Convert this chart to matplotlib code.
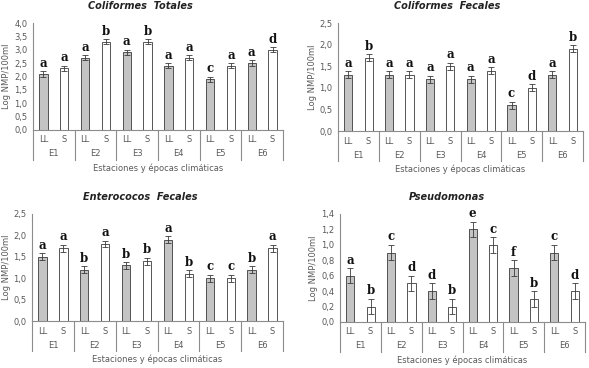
import numpy as np
import matplotlib
matplotlib.use("Agg")
from matplotlib import pyplot as plt
from matplotlib.transforms import blended_transform_factory

stations = ["E1", "E2", "E3", "E4", "E5", "E6"]
seasons = ["LL", "S"]

# coliformes totales
ct_ll = [2.1, 2.7, 2.9, 2.4, 1.9, 2.5]
ct_s = [2.3, 3.3, 3.3, 2.7, 2.4, 3.0]
ct_let_ll = ["a", "a", "a", "a", "c", "a"]
ct_let_s = ["a", "b", "b", "a", "a", "d"]

# coliformes fecales
cf_ll = [1.3, 1.3, 1.2, 1.2, 0.6, 1.3]
cf_s = [1.7, 1.3, 1.5, 1.4, 1.0, 1.9]
cf_let_ll = ["a", "a", "a", "a", "c", "a"]
cf_let_s = ["b", "a", "a", "a", "d", "b"]

# enterococos fecales
ef_ll = [1.5, 1.2, 1.3, 1.9, 1.0, 1.2]
ef_s = [1.7, 1.8, 1.4, 1.1, 1.0, 1.7]
ef_let_ll = ["a", "b", "b", "a", "c", "b"]
ef_let_s = ["a", "a", "b", "b", "c", "a"]

# pseudomonas
ps_ll = [0.6, 0.9, 0.4, 1.2, 0.7, 0.9]
ps_s = [0.2, 0.5, 0.2, 1.0, 0.3, 0.4]
ps_let_ll = ["a", "c", "d", "e", "f", "c"]
ps_let_s = ["b", "d", "b", "c", "b", "d"]

W, H = 589, 368
gray_txt = "#595959"
fig = plt.figure(figsize=(W / 100, H / 100), dpi=100)


def panel(box, title, title_x, ll, s, let_ll, let_s, ymax, ystep, err):
    l, t, r, b = box
    ax = fig.add_axes([l / W, 1 - b / H, (r - l) / W, (b - t) / H])
    axh = b - t
    x = np.arange(len(stations))
    xl = x + 0.25
    xs = x + 0.75
    ax.bar(xl, ll, width=0.2, color="#c4c4c4", edgecolor="#3a3a3a", linewidth=0.6, zorder=2)
    ax.bar(xs, s, width=0.2, color="white", edgecolor="#3a3a3a", linewidth=0.6, zorder=2)
    ax.errorbar(xl, ll, yerr=err, fmt="none", ecolor="#3a3a3a", elinewidth=0.6, capsize=2, capthick=0.6, zorder=3)
    ax.errorbar(xs, s, yerr=err, fmt="none", ecolor="#3a3a3a", elinewidth=0.6, capsize=2, capthick=0.6, zorder=3)
    for xx, v, lt in zip(list(xl) + list(xs), list(ll) + list(s), let_ll + let_s):
        ax.annotate(lt, (xx, v + err), xytext=(0, 1), textcoords="offset points",
                    ha="center", va="bottom", fontsize=8.5, fontweight="bold",
                    family="DejaVu Serif", color="#111111")
    ax.set_xlim(0, 6)
    ax.set_ylim(0, ymax)
    ticks = np.arange(0, ymax + 1e-9, ystep)
    ax.set_yticks(ticks)
    ax.set_yticklabels([("%.1f" % v).replace(".", ",") for v in ticks], fontsize=6, color=gray_txt)
    ax.tick_params(axis="y", length=0, pad=4)
    ax.set_xticks([])
    for sp in ["top", "right"]:
        ax.spines[sp].set_visible(False)
    for sp in ["left", "bottom"]:
        ax.spines[sp].set_color("#8c8c8c")
        ax.spines[sp].set_linewidth(0.8)
    trans = blended_transform_factory(ax.transData, ax.transAxes)
    for i in range(len(stations) + 1):
        ax.plot([i, i], [0, -30 / axh], transform=trans, color="#8c8c8c", lw=0.8, clip_on=False)
    for i, st in enumerate(stations):
        ax.text(i + 0.25, -10 / axh, seasons[0], transform=trans, ha="center", va="center", fontsize=6, color=gray_txt)
        ax.text(i + 0.75, -10 / axh, seasons[1], transform=trans, ha="center", va="center", fontsize=6, color=gray_txt)
        ax.text(i + 0.5, -24 / axh, st, transform=trans, ha="center", va="center", fontsize=6, color=gray_txt)
    ax.text(0.5, -38 / axh, "Estaciones y épocas climáticas", transform=ax.transAxes,
            ha="center", va="center", fontsize=6, color=gray_txt)
    ax.set_ylabel("Log NMP/100ml", fontsize=6, color=gray_txt, labelpad=2)
    fig.text(title_x / W, 1 - (t - 17) / H, title, ha="center", va="center",
             fontsize=7, fontweight="bold", fontstyle="italic", color="#222222")
    return ax


panel((33, 23, 283, 130), "Coliformes  Totales", 140, ct_ll, ct_s, ct_let_ll, ct_let_s, 4.0, 0.5, 0.1)
panel((338, 23, 583, 131), "Coliformes  Fecales", 447, cf_ll, cf_s, cf_let_ll, cf_let_s, 2.5, 0.5, 0.08)
panel((32, 214, 283, 321), "Enterococos  Fecales", 140, ef_ll, ef_s, ef_let_ll, ef_let_s, 2.5, 0.5, 0.08)
panel((340, 214, 585, 322), "Pseudomonas", 447, ps_ll, ps_s, ps_let_ll, ps_let_s, 1.4, 0.2, 0.1)

fig.savefig("out.png", dpi=100, facecolor="white")
